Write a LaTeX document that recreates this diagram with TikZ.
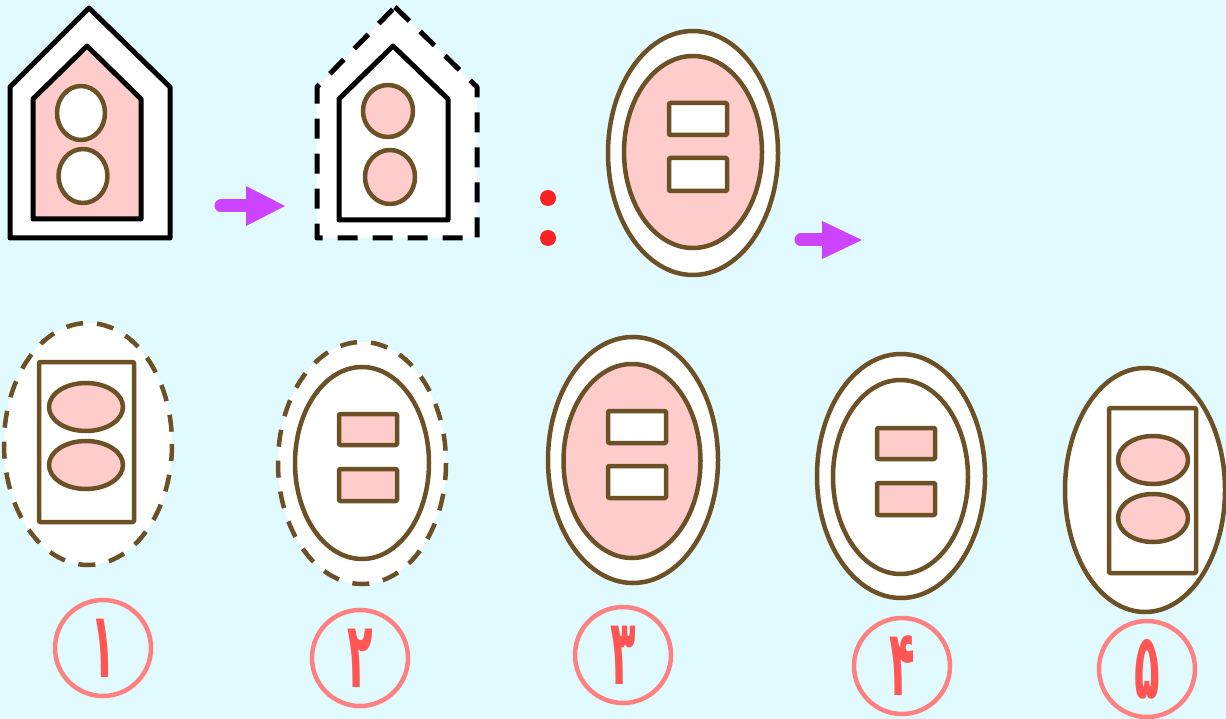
\documentclass[tikz,border=0pt]{standalone}
\usepackage{fontspec}
\newfontfamily\arabicfont[Script=Arabic]{DejaVu Sans}
\definecolor{bg}{RGB}{224,250,253}
\definecolor{brn}{RGB}{108,80,38}
\definecolor{pnk}{RGB}{255,204,204}
\definecolor{arr}{RGB}{204,68,255}
\definecolor{dotred}{RGB}{255,34,34}
\definecolor{ring}{RGB}{255,128,128}
\definecolor{digit}{RGB}{255,85,85}
\newcommand{\tall}[1]{\scalebox{1.05}[2.3]{#1}}
\tikzset{
  blk/.style={draw=black,line width=5pt,line join=round,line cap=round},
  bline/.style={draw=brn,line width=4.5pt,line join=round},
  hdsh/.style={dash pattern=on 20pt off 15pt},
  edsh/.style={dash pattern=on 17pt off 14pt},
  box/.style={bline,rounded corners=1pt},
  arrowshaft/.style={draw=arr,line width=13pt,line cap=round},
  numring/.style={circle,draw=ring,line width=4.5pt,minimum size=96pt,inner sep=0pt,
     font=\arabicfont\bfseries\fontsize{40}{40}\selectfont,text=digit},
}
\begin{document}
\begin{tikzpicture}[x=1pt,y=-1pt]
\fill[bg] (0,0) rectangle (1226,719);
\useasboundingbox (0,0) rectangle (1226,719);

% house 1
\path[blk,fill=white] (89,8) -- (170,87) -- (170,238) -- (10,238) -- (10,87) -- cycle;
\path[blk,fill=pnk] (87,46) -- (141,99) -- (141,219) -- (33,219) -- (33,99) -- cycle;
\path[bline,fill=white] (81,113) ellipse [x radius=24,y radius=27];
\path[bline,fill=white] (83,176) ellipse [x radius=24.5,y radius=27];

% arrow 1
\coordinate (a1t) at (221,206);
\coordinate (a1h) at (248,206);
\draw[arrowshaft] (a1t) -- (a1h);
\fill[arr] (246,186) -- (285,206) -- (246,226) -- cycle;

% house 2
\fill[white] (395,7) -- (477,87) -- (477,238) -- (317,238) -- (317,87) -- cycle;
\path[blk,hdsh,line cap=butt] (395,7) -- (477,87) -- (477,238) -- (317,238) -- (317,87) -- cycle;
\path[blk,fill=white] (393,46) -- (448,99) -- (448,220) -- (339,220) -- (339,99) -- cycle;
\path[bline,fill=pnk] (388,111) ellipse [x radius=25,y radius=26];
\path[bline,fill=pnk] (390,177) ellipse [x radius=25,y radius=27];

% colon dots
\fill[dotred] (548,198) circle [radius=8];
\fill[dotred] (548,238) circle [radius=8];

% oval top
\path[bline,fill=white] (693,153) ellipse [x radius=85,y radius=122];
\path[bline,fill=pnk] (693,152) ellipse [x radius=69,y radius=96];
\path[box,fill=white] (669,103) rectangle (727,135);
\path[box,fill=white] (669,158) rectangle (727,191);

% arrow 2
\coordinate (a2t) at (801,240);
\coordinate (a2h) at (824,240);
\draw[arrowshaft] (a2t) -- (a2h);
\fill[arr] (822,221) -- (862,240) -- (822,259) -- cycle;

% option 1
\fill[white] (88,444) ellipse [x radius=84,y radius=121];
\path[bline,edsh] (88,444) ellipse [x radius=84,y radius=121];
\path[box,fill=white] (39,362) rectangle (134,522);
\path[bline,fill=pnk] (86,407) ellipse [x radius=37,y radius=24];
\path[bline,fill=pnk] (86,465) ellipse [x radius=37,y radius=24];

% option 2
\fill[white] (362,463) ellipse [x radius=84,y radius=121];
\path[bline,edsh] (362,463) ellipse [x radius=84,y radius=121];
\path[bline,fill=white] (362,463) ellipse [x radius=67,y radius=96];
\path[box,fill=pnk] (339,414) rectangle (397,445);
\path[box,fill=pnk] (339,469) rectangle (397,501);

% option 3
\path[bline,fill=white] (633,460) ellipse [x radius=85,y radius=123];
\path[bline,fill=pnk] (632,461) ellipse [x radius=68.5,y radius=97];
\path[box,fill=white] (608,411) rectangle (666,443);
\path[box,fill=white] (608,466) rectangle (666,498);

% option 4
\path[bline,fill=white] (901,476) ellipse [x radius=84,y radius=122];
\path[bline,fill=white] (900.5,477) ellipse [x radius=67.5,y radius=97];
\path[box,fill=pnk] (877,428) rectangle (935,459);
\path[box,fill=pnk] (877,483) rectangle (935,515);

% option 5
\path[bline,fill=white] (1145,490) ellipse [x radius=80,y radius=122];
\path[box,fill=white] (1109,408) rectangle (1196,573);
\path[bline,fill=pnk] (1153,460) ellipse [x radius=35,y radius=24];
\path[bline,fill=pnk] (1153,518) ellipse [x radius=35,y radius=24];

% numbers
\node[numring] (n1) at (103,648) {\tall{۱}};
\node[numring] (n2) at (360,658) {\tall{۲}};
\node[numring] (n3) at (623,655) {\tall{۳}};
\node[numring] (n4) at (902,666) {\tall{۴}};
\node[numring] (n5) at (1147,669) {\tall{۵}};
\end{tikzpicture}
\end{document}
